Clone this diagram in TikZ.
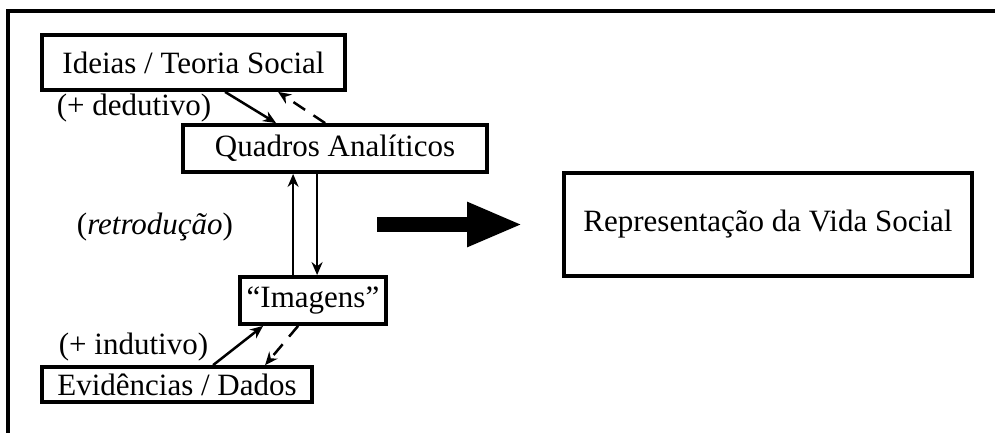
\documentclass[tikz,border=0pt]{standalone}
\usepackage{fontspec}
\setmainfont{Liberation Serif}
\usetikzlibrary{arrows.meta}
\tikzset{
  boxnode/.style={draw, line width=3.8pt, inner sep=0pt, align=center, font=\fontsize{31}{37}\selectfont},
  lbl/.style={inner sep=0pt, font=\fontsize{31}{37}\selectfont},
  conn/.style={line width=2.5pt, -{Stealth[length=13pt,width=11pt]}},
  dconn/.style={conn, dash pattern=on 14pt off 10pt},
  frame/.style={line width=3.2pt}
}
\begin{document}
\begin{tikzpicture}[x=1pt,y=-1pt]
\useasboundingbox (0,0) rectangle (995,432);
% outer frame (only top and left visible)
\coordinate (fA) at (8,433);
\coordinate (fB) at (8,11);
\coordinate (fC) at (996,11);
\draw[frame] (fA) -- (fB) -- (fC);

\node[boxnode, minimum width=303pt, minimum height=55pt] (ideias) at (193.5,62.5) {Ideias / Teoria Social};
\node[boxnode, minimum width=304pt, minimum height=47pt] (quadros) at (335,148.5) {Quadros Analíticos};
\node[boxnode, minimum width=146pt, minimum height=47pt] (imagens) at (313,300.5) {“Imagens”};
\node[boxnode, minimum width=270pt, minimum height=35pt] (evid) at (177,384.5) {Evidências / Dados};
\node[boxnode, minimum width=408pt, minimum height=103pt] (repr) at (768,224.5) {Representação da Vida Social};

\node[lbl] (ded) at (134,108) {(+ dedutivo)};
\node[lbl] (retro) at (155,227) {(\textit{retrodução})};
\node[lbl] (ind) at (133.5,347) {(+ indutivo)};

% top connectors
\draw[conn] ([xshift=185pt]ideias.south west) -- ([xshift=95pt]quadros.north west);
\draw[dconn] ([xshift=144pt]quadros.north west) -- ([xshift=238pt]ideias.south west);
% vertical connectors
\draw[conn] ([xshift=55pt]imagens.north west) -- ([xshift=112pt]quadros.south west);
\draw[conn] ([xshift=136pt]quadros.south west) -- ([xshift=79pt]imagens.north west);
% bottom connectors
\draw[conn] ([xshift=173pt]evid.north west) -- ([xshift=25pt]imagens.south west);
\draw[dconn] ([xshift=60pt]imagens.south west) -- ([xshift=225pt]evid.north west);

% big arrow
\coordinate (bigA) at (377,224.5);
\coordinate (bigB) at (523,224.5);
\draw[line width=15pt, -{Triangle[length=56pt,width=41pt]}] (bigA) -- (bigB);
\end{tikzpicture}
\end{document}
